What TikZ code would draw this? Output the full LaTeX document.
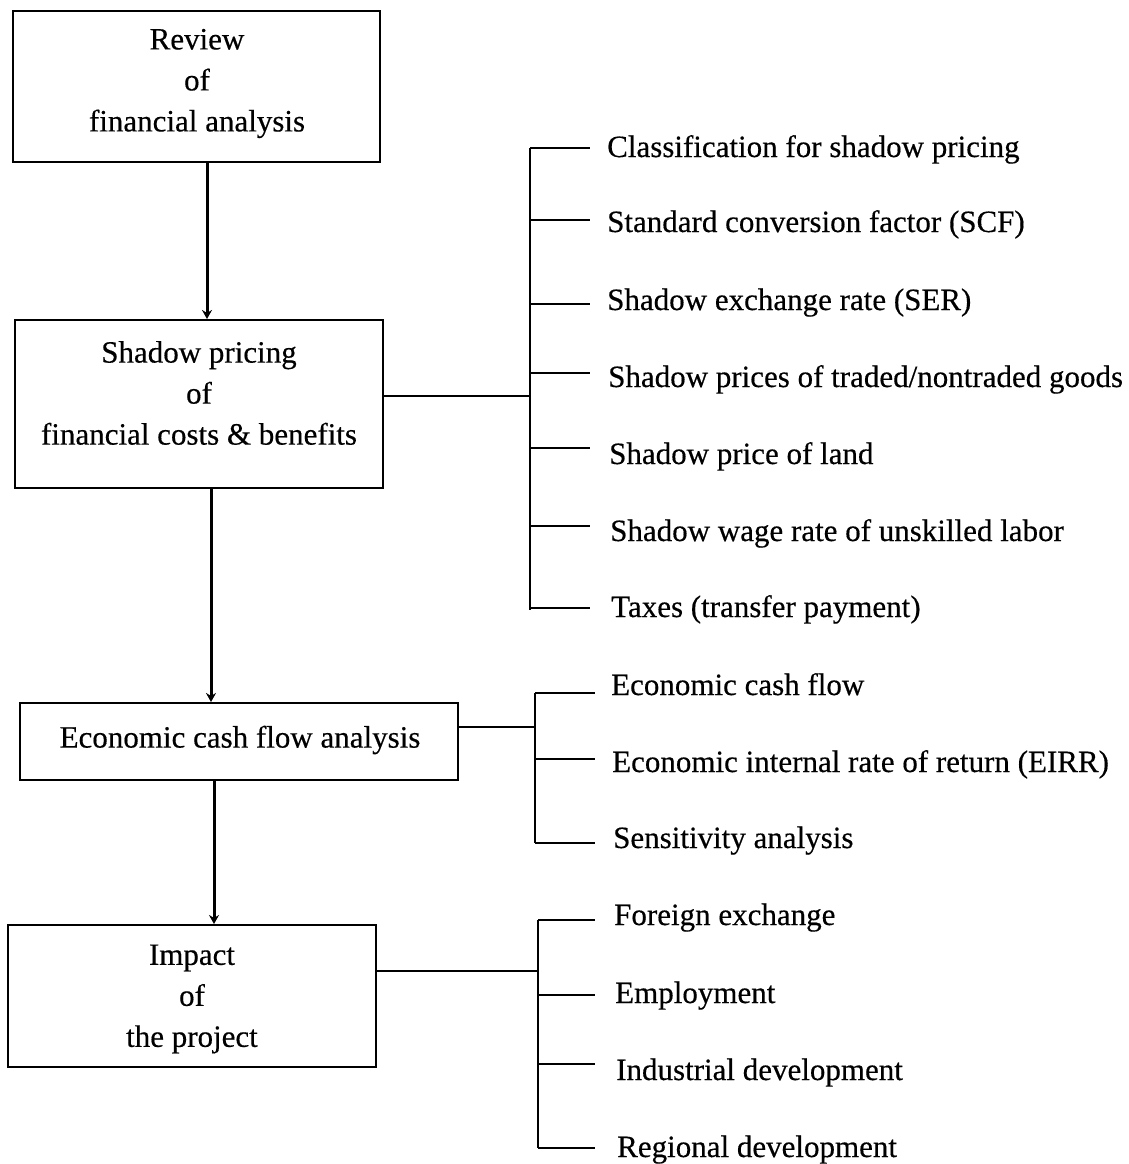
\documentclass[tikz,border=0pt]{standalone}
\usepackage{fontspec}
\setmainfont{Liberation Serif}[FakeBold=0.4]
\usetikzlibrary{arrows.meta}
\begin{document}
\begin{tikzpicture}[x=1pt,y=-1pt,
  box/.style={draw, line width=2pt, inner sep=0pt},
  txt/.style={inner sep=0pt, align=center, font=\fontsize{31}{41}\selectfont},
  lab/.style={inner sep=0pt, anchor=base west, font=\fontsize{31}{36}\selectfont},
  arr/.style={line width=3pt, -{Stealth[length=9pt,width=10pt]}},
  conn/.style={line width=1.6pt},
  brace/.style={line width=2.8pt},
  tick/.style={line width=1.5pt}]
\useasboundingbox (0,0) rectangle (1128,1164);
% boxes
\node[box, minimum width=367pt, minimum height=151pt] (b1) at (196.5,86.5) {};
\node[box, minimum width=368pt, minimum height=168pt] (b2) at (199,404) {};
\node[box, minimum width=438pt, minimum height=77pt] (b3) at (239,741.5) {};
\node[box, minimum width=368pt, minimum height=142pt] (b4) at (192,996) {};
% box texts
\node[txt] (t1) at (197,83.5) {Review\\of\\financial analysis};
\node[txt] (t2) at (199,393) {Shadow pricing\\of\\financial costs \& benefits};
\node[txt] (t3) at (240,740) {Economic cash flow analysis};
\node[txt] (t4) at (192,999) {Impact\\of\\the project};
% arrows
\draw[arr] (b1.south -| 207,0) -- (b2.north -| 207,0);
\draw[arr] (b2.south -| 211,0) -- (b3.north -| 211,0);
\draw[arr] (b3.south -| 214,0) -- (b4.north -| 214,0);
% bracket coordinates
\coordinate (k1) at (530,396);
\coordinate (k2) at (535,727);
\coordinate (k3) at (538,971);
\draw[conn] (b2.east |- k1) -- (k1);
\draw[conn] (b3.east |- k2) -- (k2);
\draw[conn] (b4.east |- k3) -- (k3);
% bracket 1
\draw[brace] (530,148) -- (530,610);
\foreach \y in {148,220,304,373,448,526,608} \draw[tick] (530,\y) -- (590,\y);
% bracket 2
\draw[brace] (535,693) -- (535,843);
\foreach \y in {693,759,843} \draw[tick] (535,\y) -- (595,\y);
% bracket 3
\draw[brace] (538,920) -- (538,1148);
\foreach \y in {920,995,1064,1148} \draw[tick] (538,\y) -- (595,\y);
% labels
\node[lab] (l1) at (607,157) {Classification for shadow pricing};
\node[lab] (l2) at (607,232) {Standard conversion factor (SCF)};
\node[lab] (l3) at (607,310) {Shadow exchange rate (SER)};
\node[lab] (l4) at (608,387) {Shadow prices of traded/nontraded goods};
\node[lab] (l5) at (609,464) {Shadow price of land};
\node[lab] (l6) at (610,541) {Shadow wage rate of unskilled labor};
\node[lab] (l7) at (611,617) {Taxes (transfer payment)};
\node[lab] (l8) at (611,695) {Economic cash flow};
\node[lab] (l9) at (612,772) {Economic internal rate of return (EIRR)};
\node[lab] (l10) at (613,848) {Sensitivity analysis};
\node[lab] (l11) at (614,925) {Foreign exchange};
\node[lab] (l12) at (615,1003) {Employment};
\node[lab] (l13) at (616,1080) {Industrial development};
\node[lab] (l14) at (617,1157) {Regional development};
\end{tikzpicture}
\end{document}
